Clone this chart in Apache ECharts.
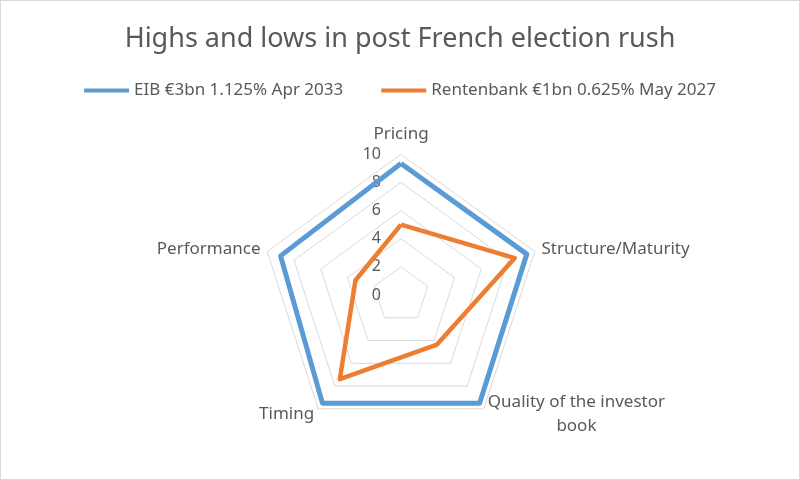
<!DOCTYPE html>
<html>
<head>
<meta charset="utf-8">
<script src="https://cdn.jsdelivr.net/npm/echarts@6/dist/echarts.min.js"></script>
<style>
  html, body { margin: 0; padding: 0; background: #fff; }
  #chart { width: 800px; height: 480px; box-sizing: border-box; border: 1px solid #d9d9d9; }
</style>
</head>
<body>
<div id="chart"></div>
<script>
// indicators listed counter-clockwise from the top (ECharts radar goes CCW)
const indicators = ['Pricing', 'Performance', 'Timing', 'Quality of the investor book', 'Structure/Maturity']
const seriesNames = ['EIB €3bn 1.125% Apr 2033', 'Rentenbank €1bn 0.625% May 2027']
const eibValues = [9.35, 9.0, 9.5, 9.5, 9.4]
const rentenbankValues = [5.0, 3.4, 7.4, 4.35, 8.5]
const tickLabels = ['0', '2', '4', '6', '8', '10']

const axisMax = 10
const textColor = '#595959'
const fontFamily = '"Noto Sans", "Open Sans", sans-serif'
const labelSize = 17

const chart = echarts.init(document.getElementById('chart'))

const option = {
    animation: false,
    textStyle: { fontFamily: fontFamily },
    title: {
        text: 'Highs and lows in post French election rush',
        left: 'center',
        top: 20,
        textStyle: {
            fontSize: 27,
            fontWeight: 'normal',
            color: textColor,
            fontFamily: fontFamily,
        },
    },
    legend: {
        data: seriesNames,
        top: 76,
        left: 'center',
        icon: 'rect',
        itemWidth: 45,
        itemHeight: 4,
        itemGap: 38,
        textStyle: { fontSize: labelSize, color: textColor, fontFamily: fontFamily },
    },
    radar: {
        center: [400, 294],
        radius: 140.7,
        startAngle: 90,
        shape: 'polygon',
        splitNumber: tickLabels.length - 1,
        nameGap: 7,
        axisName: {
            color: textColor,
            fontSize: labelSize,
            fontFamily: fontFamily,
            formatter: function (name) {
                if (name === 'Quality of the investor book') {
                    return '{a|Quality of the investor}\n{b|book}'
                }
                return name
            },
            rich: {
                a: { fontSize: labelSize, color: textColor, fontFamily: fontFamily, lineHeight: 24 },
                b: { fontSize: labelSize, color: textColor, fontFamily: fontFamily, lineHeight: 24, align: 'center' },
            },
        },
        indicator: indicators.map(function (name, i) {
            const ind = { name: name, min: 0, max: axisMax }
            if (i === 0) {
                // only the top axis carries the value labels
                ind.nameGap = 12
                ind.axisLabel = {
                    show: true,
                    color: textColor,
                    fontSize: 16,
                    fontFamily: fontFamily,
                    margin: 20,
                    formatter: function (v) {
                        return tickLabels.indexOf(String(v)) >= 0 ? String(v) : ''
                    },
                }
            }
            return ind
        }),
        axisLine: { show: false },
        axisTick: { show: false },
        axisLabel: { show: false },
        splitLine: {
            lineStyle: { color: '#d9d9d9', width: 1 },
        },
        splitArea: { show: false },
    },
    series: [
        {
            type: 'radar',
            symbol: 'none',
            data: [
                {
                    name: seriesNames[0],
                    value: eibValues,
                    itemStyle: { color: '#5b9bd5' },
                    lineStyle: { color: '#5b9bd5', width: 5 },
                },
                {
                    name: seriesNames[1],
                    value: rentenbankValues,
                    itemStyle: { color: '#ed7d31' },
                    lineStyle: { color: '#ed7d31', width: 4.5 },
                },
            ],
        },
    ],
}

chart.setOption(option)
</script>
</body>
</html>
